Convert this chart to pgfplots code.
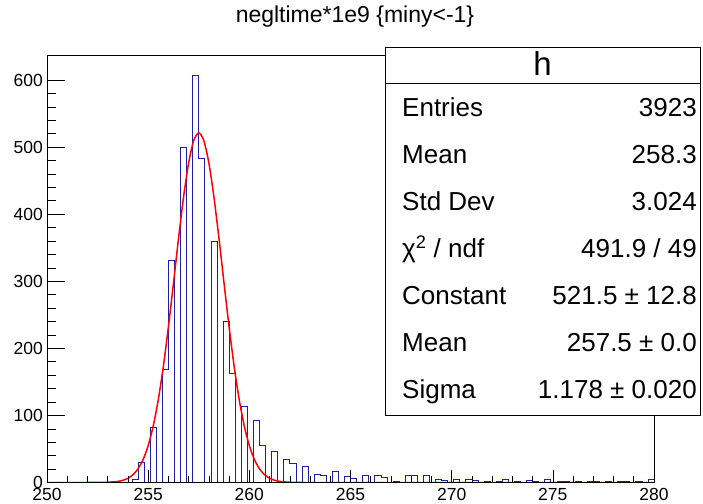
\documentclass[border=0pt]{standalone}
\usepackage{pgfplots}
\pgfplotsset{compat=1.18}
\usepackage{fontspec}
\setmainfont{Liberation Sans}
\definecolor{histblue}{RGB}{30,30,170}
\begin{document}
\begin{tikzpicture}[x=1pt,y=1pt]
\useasboundingbox (0,0) rectangle (703,503);
\begin{axis}[
  at={(47pt,20.5pt)}, anchor=south west,
  scale only axis, width=607pt, height=427.5pt,
  xmin=250, xmax=280, ymin=0, ymax=637.35,
  axis line style={black, line width=0.6pt},
  xtick={250,255,...,280}, minor x tick num=4,
  ytick={0,100,...,600}, minor y tick num=4,
  tick align=inside, xtick pos=bottom, ytick pos=left,
  xtick style={black, line width=0.6pt, /pgfplots/major tick length=12.8pt, /pgfplots/minor tick length=6.4pt},
  ytick style={black, line width=0.6pt, /pgfplots/major tick length=18pt, /pgfplots/minor tick length=9pt},
  /pgf/number format/assume math mode=true,
  ticklabel style={font=\fontsize{17.5}{17.5}\selectfont},
  yticklabel style={inner sep=0pt, xshift=-4pt},
  xticklabel style={inner sep=0pt, yshift=-5.5pt},
  axis on top,
  clip=true,
]
\addplot[const plot mark left, histblue, line width=0.7pt] coordinates {
(250,0) (254.2,4) (254.5,30) (254.8,0) (255.1,82) (255.4,0) (255.7,168) (256.0,331) (256.3,0) (256.6,500) (256.9,0) (257.2,607) (257.5,483) (257.8,0) (258.1,360) (258.4,0) (258.7,240) (259.0,163) (259.3,0) (259.6,113) (259.9,0) (260.2,92) (260.5,56) (260.8,0) (261.1,47) (261.4,0) (261.7,34) (262.0,28) (262.3,0) (262.6,24) (262.9,0) (263.2,12) (263.5,10) (263.8,0) (264.1,17) (264.4,0) (264.7,9) (265.0,6) (265.3,0) (265.6,11) (265.9,0) (266.2,10) (266.5,7) (266.8,0) (267.1,2) (267.4,0) (267.7,10) (268.0,11) (268.3,0) (268.6,11) (268.9,0) (269.2,5) (269.5,3) (269.8,0) (270.1,5) (270.4,0) (270.7,5) (271.0,3) (271.3,0) (271.6,2) (271.9,0) (272.2,2) (272.5,4) (272.8,0) (273.1,1) (273.4,0) (273.7,3) (274.0,2) (274.3,0) (274.6,4) (274.9,0) (275.2,2) (275.5,2) (275.8,0) (276.1,1) (276.4,0) (276.7,1) (277.0,2) (277.3,0) (277.6,2) (277.9,0) (278.2,2) (278.5,2) (278.8,0) (279.1,1) (279.4,0) (279.7,5) (280,5) (280,0)
};
\addplot[red, line width=1.5pt, smooth, tension=0.4] coordinates {
(250,0) (252,0) (252.5,0.06) (253,0.35) (253.5,1.6) (253.75,3.3) (254,6.3) (254.25,11.6) (254.5,20.4) (254.75,34.2) (255,54.9) (255.25,84.2) (255.5,123.4) (255.75,173.0) (256,231.8) (256.25,297.0) (256.5,363.7) (256.75,425.8) (257,476.6) (257.25,509.9) (257.5,521.5) (257.75,509.9) (258,476.6) (258.25,425.8) (258.5,363.7) (258.75,297.0) (259,231.8) (259.25,173.0) (259.5,123.4) (259.75,84.2) (260,54.9) (260.25,34.2) (260.5,20.4) (260.75,11.6) (261,6.3) (261.25,3.3) (261.5,1.6) (262,0.35) (262.5,0.06) (263,0) (280,0)
};
\end{axis}
\node[font=\fontsize{23}{23}\selectfont, anchor=base] at (355,480) {negltime*1e9 \{miny<-1\}};
\draw[black, line width=0.6pt, fill=white] (385,88) rectangle (700,456);
\draw[black, line width=0.6pt] (385,420) -- (700,420);
\node[font=\fontsize{33}{33}\selectfont, anchor=base] at (542.5,427) {h};
\begin{scope}[every node/.style={font=\fontsize{26}{26}\selectfont, inner sep=0pt}]
\node[anchor=base west] at (402,386) {Entries};
\node[anchor=base east] at (697,386) {3923};
\node[anchor=base west] at (402,339) {Mean};
\node[anchor=base east] at (697,339) {258.3};
\node[anchor=base west] at (402,292) {Std Dev};
\node[anchor=base east] at (697,292) {3.024};
\node[anchor=base west] at (402,245) {χ\textsuperscript{2} / ndf};
\node[anchor=base east] at (697,245) {491.9 / 49};
\node[anchor=base west] at (402,198) {Constant};
\node[anchor=base east] at (697,198) {521.5 ± 12.8};
\node[anchor=base west] at (402,151) {Mean};
\node[anchor=base east] at (697,151) {257.5 ± 0.0};
\node[anchor=base west] at (402,104) {Sigma};
\node[anchor=base east] at (697,104) {1.178 ± 0.020};
\end{scope}
\end{tikzpicture}
\end{document}
